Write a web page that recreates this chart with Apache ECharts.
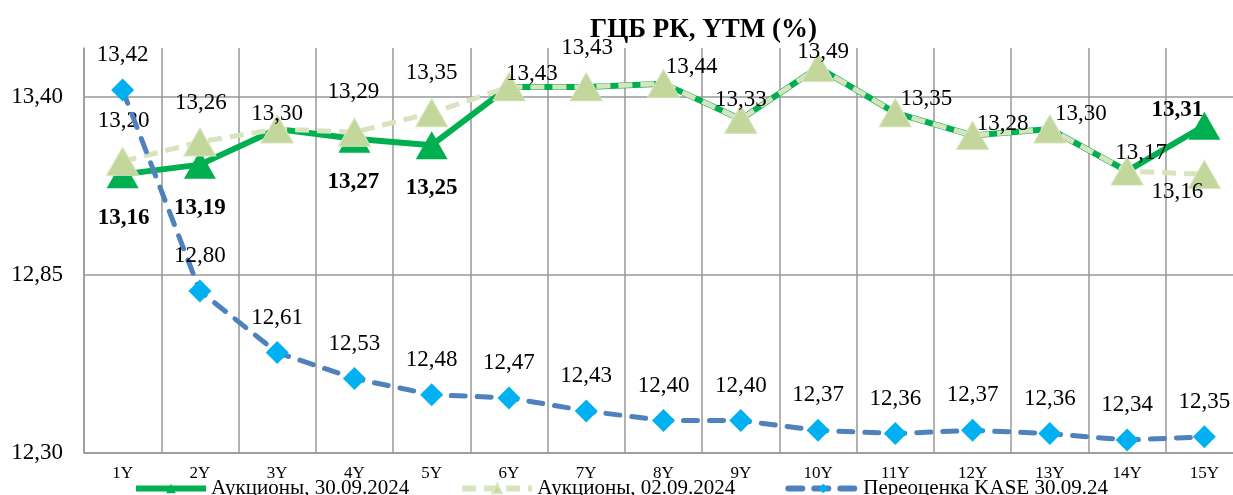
<!DOCTYPE html>
<html>
<head>
<meta charset="utf-8">
<script src="https://cdn.jsdelivr.net/npm/echarts@6/dist/echarts.min.js"></script>
<style>
html,body{margin:0;padding:0;background:#fff;}
#c{width:1233px;height:495px;}
</style>
</head>
<body>
<div id="c"></div>
<script>
const categories = ['1Y','2Y','3Y','4Y','5Y','6Y','7Y','8Y','9Y','10Y','11Y','12Y','13Y','14Y','15Y'];
const auction3009 = [13.16, 13.19, 13.30, 13.27, 13.25, 13.43, 13.43, 13.44, 13.33, 13.49, 13.35, 13.28, 13.30, 13.17, 13.31];
const auction0209 = [13.20, 13.26, 13.30, 13.29, 13.35, 13.43, 13.43, 13.44, 13.33, 13.49, 13.35, 13.28, 13.30, 13.17, 13.16];
const kase3009 = [13.42, 12.80, 12.61, 12.53, 12.48, 12.47, 12.43, 12.40, 12.40, 12.37, 12.36, 12.37, 12.36, 12.34, 12.35];
const yTicks = [12.30, 12.85, 13.40];
const seriesNames = ['Аукционы, 30.09.2024', 'Аукционы, 02.09.2024', 'Переоценка KASE 30.09.24'];
const titleText = 'ГЦБ РК, YTM (%)';

// label layout (offsets from marker centre), kept apart from data
const offA = [[1,44],[0,43],[0,43],[-1,43],[0,43],[0,43],[0,43],[0,43],[0,43],[0,43],[0,43],[0,43],[0,43],[0,43],[-27,-16]];
const offB = [[1,-40],[1,-39],[0,-15],[-1,-40],[0,-40],[23,-13],[1,-39],[28,-17],[0,-19],[5,-15],[31,-14],[30,-12],[31,-15],[14,-18],[-27,18]];
const offK = [0,-35];

const FONT = "'Liberation Serif', 'Times New Roman', serif";
const fmt = v => v.toFixed(2).replace('.', ',');

const dataA = auction3009.map((v, i) => ({
  value: v,
  label: { show: v !== auction0209[i], offset: offA[i] }
}));
const dataB = auction0209.map((v, i) => ({
  value: v,
  label: { show: true, offset: offB[i] }
}));

const chart = echarts.init(document.getElementById('c'), null, {renderer: 'canvas'});
chart.setOption({
  animation: false,
  backgroundColor: '#fff',
  textStyle: { fontFamily: FONT },
  title: {
    text: titleText,
    left: 585, top: 12,
    textStyle: { fontFamily: FONT, fontSize: 27, fontWeight: 'bold', color: '#000' }
  },
  grid: { left: 84, width: 1159, top: 48, bottom: 42, containLabel: false, outerBoundsMode: 'none' },
  legend: {
    left: 128, top: 473,
    itemWidth: 70, itemHeight: 12, itemGap: 50,
    lineStyle: { width: 6 },
    textStyle: { fontFamily: FONT, fontSize: 21, color: '#000' },
    data: seriesNames
  },
  xAxis: {
    type: 'category',
    data: categories,
    boundaryGap: true,
    axisLine: { show: true, lineStyle: { color: '#999', width: 1.5 } },
    axisTick: { show: false },
    splitLine: { show: true, lineStyle: { color: '#999', width: 1.5 } },
    axisLabel: { fontFamily: FONT, fontSize: 17, color: '#000', margin: 12 }
  },
  yAxis: {
    type: 'value',
    min: yTicks[0], max: 13.55, interval: yTicks[1] - yTicks[0],
    axisLine: { show: true, lineStyle: { color: '#999', width: 1.5 } },
    axisTick: { show: false },
    splitLine: { show: true, showMaxLine: false, lineStyle: { color: '#999', width: 1.5 } },
    axisLabel: {
      fontFamily: FONT, fontSize: 23, color: '#000', margin: 21, showMaxLabel: false,
      formatter: v => yTicks.some(t => Math.abs(t - v) < 1e-6) ? fmt(v) : ''
    }
  },
  series: [
    {
      name: seriesNames[0], type: 'line', data: dataA,
      symbol: 'triangle', symbolSize: [32, 28],
      lineStyle: { color: '#00B050', width: 6 },
      itemStyle: { color: '#00B050' },
      label: { position: 'inside', fontFamily: FONT, fontSize: 23, fontWeight: 'bold', color: '#000',
               formatter: p => fmt(p.value) },
      z: 2
    },
    {
      name: seriesNames[1], type: 'line', data: dataB,
      symbol: 'triangle', symbolSize: [32, 28],
      lineStyle: { color: '#D7E4BD', width: 5, type: [14, 8] },
      itemStyle: { color: '#C3D69B', borderColor: '#D7E4BD', borderWidth: 1 },
      label: { position: 'inside', fontFamily: FONT, fontSize: 23, color: '#000',
               formatter: p => fmt(p.value) },
      z: 3
    },
    {
      name: seriesNames[2], type: 'line', data: kase3009,
      symbol: 'diamond', symbolSize: [23, 23],
      lineStyle: { color: '#4F81BD', width: 5, type: [14, 12], cap: 'round' },
      itemStyle: { color: '#00B0F0' },
      label: { show: true, position: 'inside', offset: offK, fontFamily: FONT, fontSize: 23, color: '#000',
               formatter: p => fmt(p.value) },
      z: 4
    }
  ]
});
</script>
</body>
</html>
